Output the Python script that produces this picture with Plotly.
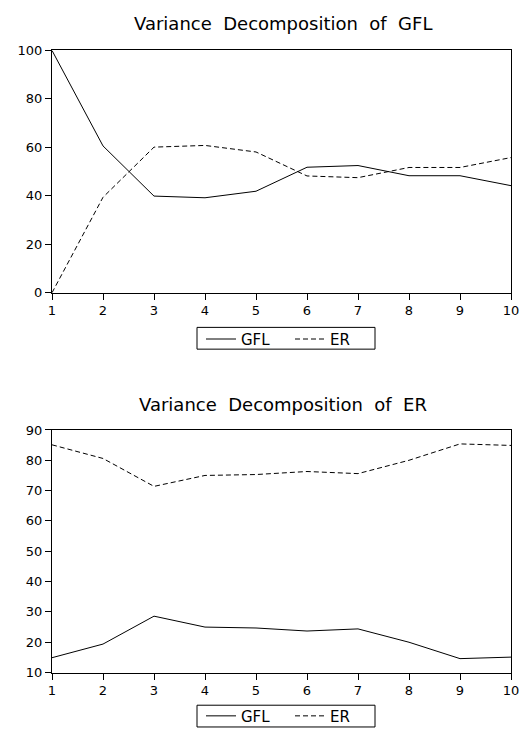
import plotly.graph_objects as go

periods = [1, 2, 3, 4, 5, 6, 7, 8, 9, 10]

# Variance Decomposition of GFL
gfl_gfl = [100.0, 60.6, 39.9, 39.2, 41.9, 51.8, 52.5, 48.3, 48.3, 44.2]
gfl_er = [0.0, 39.4, 60.1, 60.8, 58.1, 48.2, 47.5, 51.7, 51.7, 55.8]

# Variance Decomposition of ER
er_gfl = [14.9, 19.4, 28.6, 25.0, 24.7, 23.7, 24.4, 20.0, 14.6, 15.1]
er_er = [85.1, 80.6, 71.4, 75.0, 75.3, 76.3, 75.6, 80.0, 85.4, 84.9]

top_yticks = [0, 20, 40, 60, 80, 100]
bot_yticks = [10, 20, 30, 40, 50, 60, 70, 80, 90]

top_title = "Variance\u00a0 Decomposition\u00a0 of\u00a0 GFL"
bot_title = "Variance\u00a0 Decomposition\u00a0 of\u00a0 ER"

FONT = "DejaVu Sans"
W, H = 532, 733

fig = go.Figure()
solid = dict(color="black", width=1)
dashed = dict(color="black", width=1, dash="5px,3px")

fig.add_trace(go.Scatter(x=periods, y=gfl_gfl, mode="lines", name="GFL", line=solid,
                         xaxis="x", yaxis="y", legend="legend"))
fig.add_trace(go.Scatter(x=periods, y=gfl_er, mode="lines", name="ER", line=dashed,
                         xaxis="x", yaxis="y", legend="legend"))
fig.add_trace(go.Scatter(x=periods, y=er_gfl, mode="lines", name="GFL", line=solid,
                         xaxis="x2", yaxis="y2", legend="legend2"))
fig.add_trace(go.Scatter(x=periods, y=er_er, mode="lines", name="ER", line=dashed,
                         xaxis="x2", yaxis="y2", legend="legend2"))

xdom = [52 / W, 511 / W]
top_dom = [1 - 296 / H, 1 - 51 / H]
bot_dom = [1 - 680 / H, 1 - 434.7 / H]

axis_common = dict(showline=True, linecolor="black", linewidth=1, mirror=True,
                   showgrid=False, zeroline=False, ticks="outside", ticklen=6,
                   tickcolor="black", tickwidth=1, automargin=False,
                   tickfont=dict(family=FONT, size=13, color="black"))

legend_common = dict(orientation="h", x=290 / W, xanchor="center", yanchor="middle",
                     borderwidth=0, bgcolor="rgba(0,0,0,0)",
                     font=dict(family=FONT, size=15, color="black"),
                     itemwidth=30, entrywidth=44, entrywidthmode="pixels")

box_style = dict(type="rect", xref="paper", yref="paper",
                 line=dict(color="black", width=1), fillcolor="rgba(0,0,0,0)", layer="above")

fig.update_layout(
    template="none",
    width=W, height=H,
    margin=dict(l=0, r=0, t=0, b=0),
    plot_bgcolor="white", paper_bgcolor="white",
    showlegend=True,
    xaxis=dict(domain=xdom, range=[1, 10], tickvals=periods, anchor="y", **axis_common),
    yaxis=dict(domain=top_dom, range=[0, 100], tickvals=top_yticks, anchor="x", **axis_common),
    xaxis2=dict(domain=xdom, range=[1, 10], tickvals=periods, anchor="y2", **axis_common),
    yaxis2=dict(domain=bot_dom, range=[10, 90], tickvals=bot_yticks, anchor="x2", **axis_common),
    legend=dict(y=1 - 343 / H, **legend_common),
    legend2=dict(y=1 - 724 / H, **legend_common),
    shapes=[
        dict(x0=197 / W, x1=375 / W, y0=1 - 353 / H, y1=1 - 331 / H, **box_style),
        dict(x0=197 / W, x1=375 / W, y0=1 - 735 / H, y1=1 - 713 / H, **box_style),
    ],
    annotations=[
        dict(text=top_title, xref="paper", yref="paper",
             x=283 / W, y=1 - 24 / H, xanchor="center", yanchor="middle", showarrow=False,
             font=dict(family=FONT, size=18, color="black")),
        dict(text=bot_title, xref="paper", yref="paper",
             x=283 / W, y=1 - 409 / H, xanchor="center", yanchor="middle", showarrow=False,
             font=dict(family=FONT, size=18, color="black")),
    ],
)

fig.write_html("out.html", config={"displayModeBar": False},
               post_script="document.body.style.margin='0';document.body.style.overflow='hidden';")
